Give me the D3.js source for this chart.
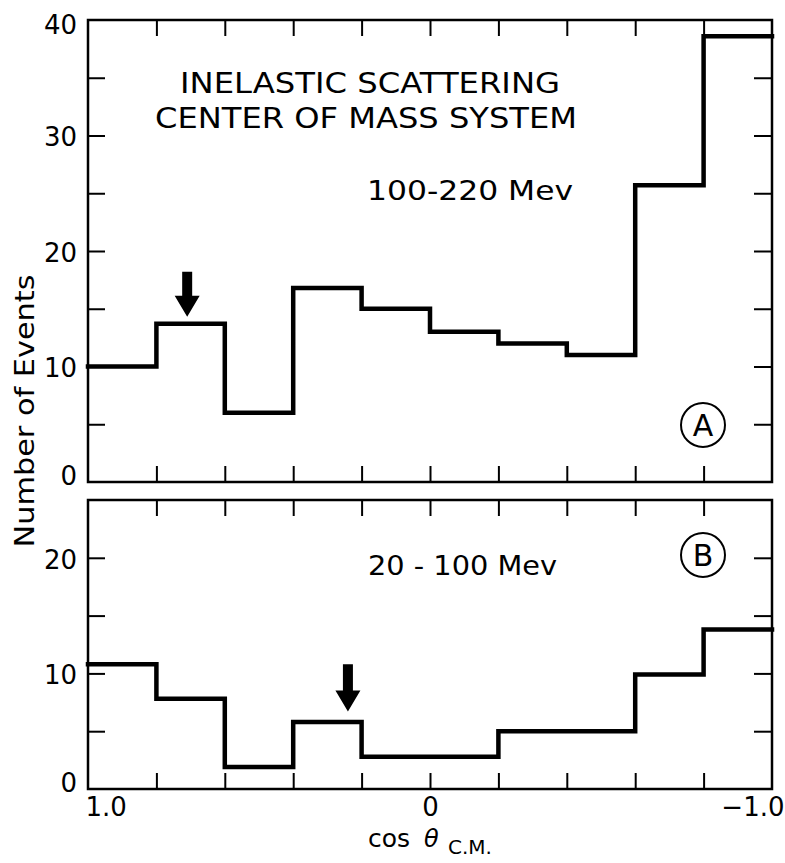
<!DOCTYPE html>
<html>
<head>
<meta charset="utf-8">
<script src="https://cdn.jsdelivr.net/npm/d3@7"></script>
<style>
  html, body { margin: 0; padding: 0; background: #fff; }
  svg { display: block; }
  text { font-family: "DejaVu Sans", "Liberation Sans", Arial, sans-serif; fill: #000; }
</style>
</head>
<body>
<script>
// ---- data ----
const binEdges = [1.0, 0.8, 0.6, 0.4, 0.2, 0.0, -0.2, -0.4, -0.6, -0.8, -1.0];
const countsA = [10, 13.7, 6, 16.8, 15, 13, 12, 11, 25.7, 38.6];   // 100-220 Mev
const countsB = [10.8, 7.8, 1.9, 5.8, 2.8, 2.8, 5, 5, 9.9, 13.8];  // 20-100 Mev
const xTicks = [1.0, 0.8, 0.6, 0.4, 0.2, 0.0, -0.2, -0.4, -0.6, -0.8, -1.0];
const xTickLabels = ["1.0", "", "", "", "", "0", "", "", "", "", "\u22121.0"];
const yTicksA = [0, 5, 10, 15, 20, 25, 30, 35, 40];
const yTicksB = [0, 5, 10, 15, 20, 25];
const yLabelsEvery = 10;
const arrowA = { cos: 0.71, tip: 14.3, top: 18.2 };
const arrowB = { cos: 0.24, tip: 6.7, top: 10.8 };

const FONT = '"DejaVu Sans", "Liberation Sans", Arial, sans-serif';
const W = 785, H = 863;
const svg = d3.select("body").append("svg").attr("width", W).attr("height", H);
svg.append("rect").attr("width", W).attr("height", H).attr("fill", "#fff");

const x = d3.scaleLinear().domain([1, -1]).range([88, 772]);
const yA = d3.scaleLinear().domain([0, 40]).range([482, 20]);
const yB = d3.scaleLinear().domain([0, 25]).range([789, 500]);

function panel(y, yTicks, counts, showXLabels) {
  const g = svg.append("g");
  const [y0, y1] = y.range();
  const [x0, x1] = x.range();
  const ymax = y.domain()[1];
  const fmtY = d => (d % yLabelsEvery === 0 ? String(d) : "");

  const left = g.append("g").attr("transform", `translate(${x0},0)`)
    .call(d3.axisLeft(y).tickValues(yTicks).tickSize(-17).tickPadding(11).tickFormat(fmtY));
  const right = g.append("g").attr("transform", `translate(${x1},0)`)
    .call(d3.axisRight(y).tickValues(yTicks.filter(d => d > 0 && d < ymax)).tickSize(-18).tickFormat(""));
  const top = g.append("g").attr("transform", `translate(0,${y1})`)
    .call(d3.axisTop(x).tickValues(xTicks.slice(1, -1)).tickSize(-16).tickFormat(""));
  const bottom = g.append("g").attr("transform", `translate(0,${y0})`)
    .call(d3.axisBottom(x).tickValues(showXLabels ? xTicks : xTicks.slice(1, -1)).tickSize(-16).tickPadding(10)
      .tickFormat((d, i) => showXLabels ? xTickLabels[i] : ""));

  [left, right, top, bottom].forEach(a => {
    a.select(".domain").remove();
    a.selectAll(".tick line").attr("stroke", "#000").attr("stroke-width", 2);
    a.selectAll("text").attr("font-size", 26).attr("fill", "#000").attr("font-family", FONT);
  });
  left.selectAll(".tick").filter(d => d === ymax || d === 0).select("line").remove();
  left.selectAll(".tick text").attr("dy", d => d === 0 ? "0.1em" : (d === ymax ? "0.5em" : "0.4em"));

  if (showXLabels) {
    bottom.selectAll(".tick").filter(d => d === 1 || d === -1).select("line").remove();
    bottom.selectAll(".tick text").attr("dy", "0.66em");
    bottom.selectAll(".tick").filter(d => d === 1).select("text").attr("text-anchor", "start").attr("dx", -3);
    bottom.selectAll(".tick").filter(d => d === -1).select("text").attr("text-anchor", "end").attr("dx", 12);
  }

  // frame
  g.append("rect").attr("x", x0).attr("y", y1).attr("width", x1 - x0).attr("height", y0 - y1)
    .attr("fill", "none").attr("stroke", "#000").attr("stroke-width", 2.5);

  // histogram
  const pts = binEdges.map((e, i) => [e, counts[Math.min(i, counts.length - 1)]]);
  const line = d3.line().x(d => x(d[0])).y(d => y(d[1])).curve(d3.curveStepAfter);
  g.append("path").attr("d", line(pts)).attr("fill", "none").attr("stroke", "#000")
    .attr("stroke-width", 4.5).attr("stroke-linejoin", "miter").attr("stroke-linecap", "square");
  return g;
}

const gA = panel(yA, yTicksA, countsA, false);
const gB = panel(yB, yTicksB, countsB, true);

function arrow(g, y, a) {
  const cx = x(a.cos), tip = y(a.tip), top = y(a.top);
  const headH = 21, headW = 12.5, shaftW = 5;
  const p = d3.path();
  p.moveTo(cx - shaftW, top);
  p.lineTo(cx + shaftW, top);
  p.lineTo(cx + shaftW, tip - headH);
  p.lineTo(cx + headW, tip - headH);
  p.lineTo(cx, tip);
  p.lineTo(cx - headW, tip - headH);
  p.lineTo(cx - shaftW, tip - headH);
  p.closePath();
  g.append("path").attr("d", p.toString()).attr("fill", "#000");
}
arrow(gA, yA, arrowA);
arrow(gB, yB, arrowB);

// annotations
function txt(t, xx, yy, size, len) {
  const s = svg.append("text").attr("x", xx).attr("y", yy).attr("font-size", size).text(t);
  if (len) s.attr("textLength", len).attr("lengthAdjust", "spacingAndGlyphs");
  return s;
}
txt("INELASTIC SCATTERING", 180, 93, 29, 380);
txt("CENTER OF MASS SYSTEM", 155, 128, 29, 422);
txt("100-220 Mev", 367, 200, 27, 206);
txt("20 - 100 Mev", 368, 575, 27, 189);

function circled(letter, cx, cy) {
  svg.append("circle").attr("cx", cx).attr("cy", cy).attr("r", 22)
    .attr("fill", "none").attr("stroke", "#000").attr("stroke-width", 2);
  svg.append("text").attr("x", cx).attr("y", cy + 11).attr("text-anchor", "middle")
    .attr("font-size", 30).text(letter);
}
circled("A", 703, 425);
circled("B", 703, 555);

// y axis title
svg.append("text").attr("transform", "translate(34,411) rotate(-90)")
  .attr("text-anchor", "middle").attr("font-size", 27)
  .attr("textLength", 273).attr("lengthAdjust", "spacingAndGlyphs")
  .text("Number of Events");

// x axis title
const xt = svg.append("text").attr("y", 847).attr("font-size", 25);
xt.append("tspan").attr("x", 368).text("cos");
xt.append("tspan").attr("x", 424).attr("font-style", "italic").attr("font-size", 24).text("\u03B8");
xt.append("tspan").attr("x", 448).attr("dy", 7).attr("font-size", 20).text("C.M.");
</script>
</body>
</html>
